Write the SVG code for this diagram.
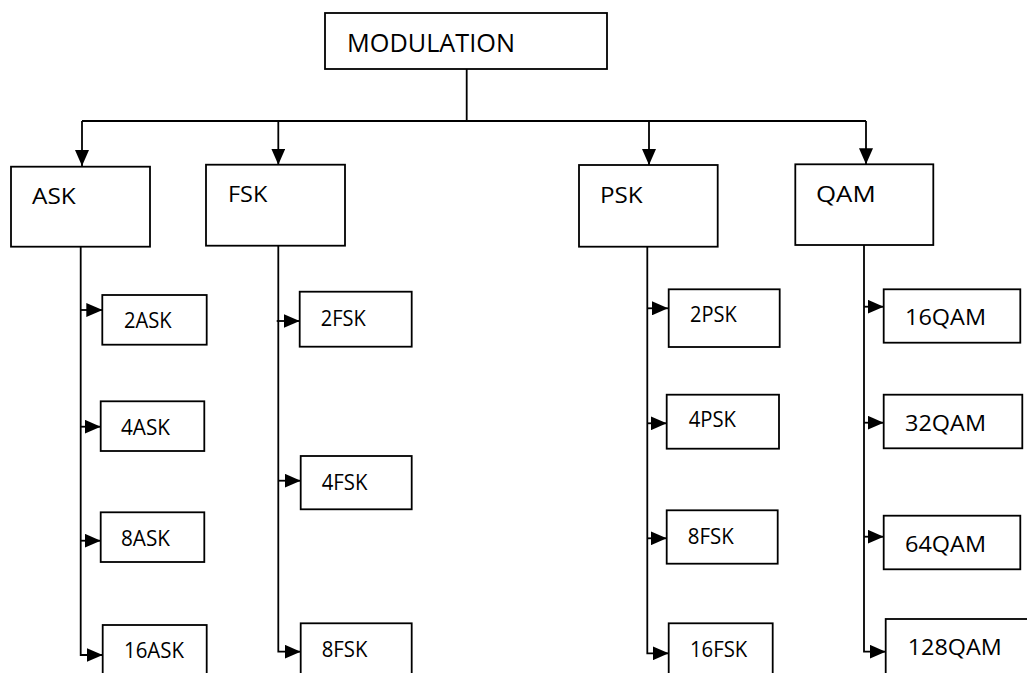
<svg xmlns="http://www.w3.org/2000/svg" width="1027" height="673" viewBox="0 0 1027 673">
<style>
rect{fill:#fff;stroke:#000;stroke-width:1.8}
text{font-family:"Open Sans","Liberation Sans",sans-serif;font-size:22px;fill:#000}
.big{font-size:26px}
#connectors path{fill:none;stroke:#000;stroke-width:1.8}
</style>
<defs>
<marker id="ah" markerUnits="userSpaceOnUse" markerWidth="16" markerHeight="14" refX="16" refY="7" orient="auto">
<path d="M0,0 L16,7 L0,14 z" fill="#000"/>
</marker>
</defs>
<rect x="0" y="0" width="1027" height="673" fill="#fff" stroke="none" style="stroke:none"/>
<g id="connectors">
<path d="M466.7,69 V121 M82,121 H866"/>
<path d="M82,121 V166" marker-end="url(#ah)"/>
<path d="M278.3,121 V164.7" marker-end="url(#ah)"/>
<path d="M649,121 V165" marker-end="url(#ah)"/>
<path d="M866,121 V164.3" marker-end="url(#ah)"/>
<path d="M80.7,247 V655 H102.7" marker-end="url(#ah)"/>
<path d="M80.7,310 H102.3" marker-end="url(#ah)"/>
<path d="M80.7,426.7 H100.7" marker-end="url(#ah)"/>
<path d="M80.7,540.7 H100.7" marker-end="url(#ah)"/>
<path d="M278.3,246 V651.7 H300.7" marker-end="url(#ah)"/>
<path d="M276.7,321 H299.7" marker-end="url(#ah)"/>
<path d="M278.3,480.7 H300.7" marker-end="url(#ah)"/>
<path d="M647.3,246.7 V653.3 H668.7" marker-end="url(#ah)"/>
<path d="M647.3,308.3 H668" marker-end="url(#ah)"/>
<path d="M647.3,423.3 H666.7" marker-end="url(#ah)"/>
<path d="M647.3,538.3 H666.7" marker-end="url(#ah)"/>
<path d="M864,245 V651.7 H885.7" marker-end="url(#ah)"/>
<path d="M864,306.7 H883.7" marker-end="url(#ah)"/>
<path d="M864,422.7 H883.7" marker-end="url(#ah)"/>
<path d="M864,536.7 H883.7" marker-end="url(#ah)"/>
</g>
<g id="modulation"><rect x="325" y="13" width="282" height="56"/><text class="big" x="347" y="52" textLength="168" lengthAdjust="spacingAndGlyphs">MODULATION</text></g>
<g id="ask"><rect x="11" y="166.7" width="139" height="80"/><text x="32" y="204" textLength="43.7" lengthAdjust="spacingAndGlyphs">ASK</text></g>
<g id="fsk"><rect x="206" y="164.7" width="139" height="81"/><text x="228" y="202" textLength="39.3" lengthAdjust="spacingAndGlyphs">FSK</text></g>
<g id="psk"><rect x="579" y="165" width="138.7" height="81.7"/><text x="600" y="203" textLength="42.7" lengthAdjust="spacingAndGlyphs">PSK</text></g>
<g id="qam"><rect x="795.3" y="164.3" width="138" height="80.7"/><text x="816" y="202" textLength="59.7" lengthAdjust="spacingAndGlyphs">QAM</text></g>
<g id="ask2"><rect x="102.3" y="295" width="104.4" height="49.7"/><text x="124" y="327.7" textLength="47.7" lengthAdjust="spacingAndGlyphs">2ASK</text></g>
<g id="ask4"><rect x="100.7" y="401.3" width="103.6" height="49.7"/><text x="121" y="435" textLength="49" lengthAdjust="spacingAndGlyphs">4ASK</text></g>
<g id="ask8"><rect x="100.7" y="512.3" width="103.6" height="49.7"/><text x="121" y="546" textLength="49" lengthAdjust="spacingAndGlyphs">8ASK</text></g>
<g id="ask16"><rect x="102.7" y="625" width="104" height="60"/><text x="124" y="658.3" textLength="60" lengthAdjust="spacingAndGlyphs">16ASK</text></g>
<g id="fsk2"><rect x="299.7" y="291.7" width="112" height="55"/><text x="320.7" y="326" textLength="45" lengthAdjust="spacingAndGlyphs">2FSK</text></g>
<g id="fsk4"><rect x="300.7" y="456" width="111" height="53.3"/><text x="321.7" y="490" textLength="45.7" lengthAdjust="spacingAndGlyphs">4FSK</text></g>
<g id="fsk8"><rect x="300.7" y="623.3" width="111" height="60"/><text x="321.7" y="656.7" textLength="45.7" lengthAdjust="spacingAndGlyphs">8FSK</text></g>
<g id="psk2"><rect x="668.7" y="289.3" width="111" height="57.7"/><text x="690" y="322.3" textLength="46.7" lengthAdjust="spacingAndGlyphs">2PSK</text></g>
<g id="psk4"><rect x="666.7" y="394.7" width="112.3" height="54"/><text x="688.7" y="427.3" textLength="47.3" lengthAdjust="spacingAndGlyphs">4PSK</text></g>
<g id="psk8"><rect x="666.7" y="510.3" width="111" height="53.4"/><text x="687.7" y="543.7" textLength="46" lengthAdjust="spacingAndGlyphs">8FSK</text></g>
<g id="psk16"><rect x="668.7" y="623.3" width="104" height="60"/><text x="690" y="656.7" textLength="57.3" lengthAdjust="spacingAndGlyphs">16FSK</text></g>
<g id="qam16"><rect x="883.7" y="289.3" width="136.6" height="53.4"/><text x="905" y="325" textLength="81" lengthAdjust="spacingAndGlyphs">16QAM</text></g>
<g id="qam32"><rect x="883.7" y="394.7" width="138.6" height="53.6"/><text x="905" y="430.7" textLength="81" lengthAdjust="spacingAndGlyphs">32QAM</text></g>
<g id="qam64"><rect x="883.7" y="515.7" width="136.6" height="53.6"/><text x="905" y="551.7" textLength="81" lengthAdjust="spacingAndGlyphs">64QAM</text></g>
<g id="qam128"><rect x="885.7" y="619" width="145" height="70"/><text x="907.7" y="655" textLength="94" lengthAdjust="spacingAndGlyphs">128QAM</text></g>
</svg>
